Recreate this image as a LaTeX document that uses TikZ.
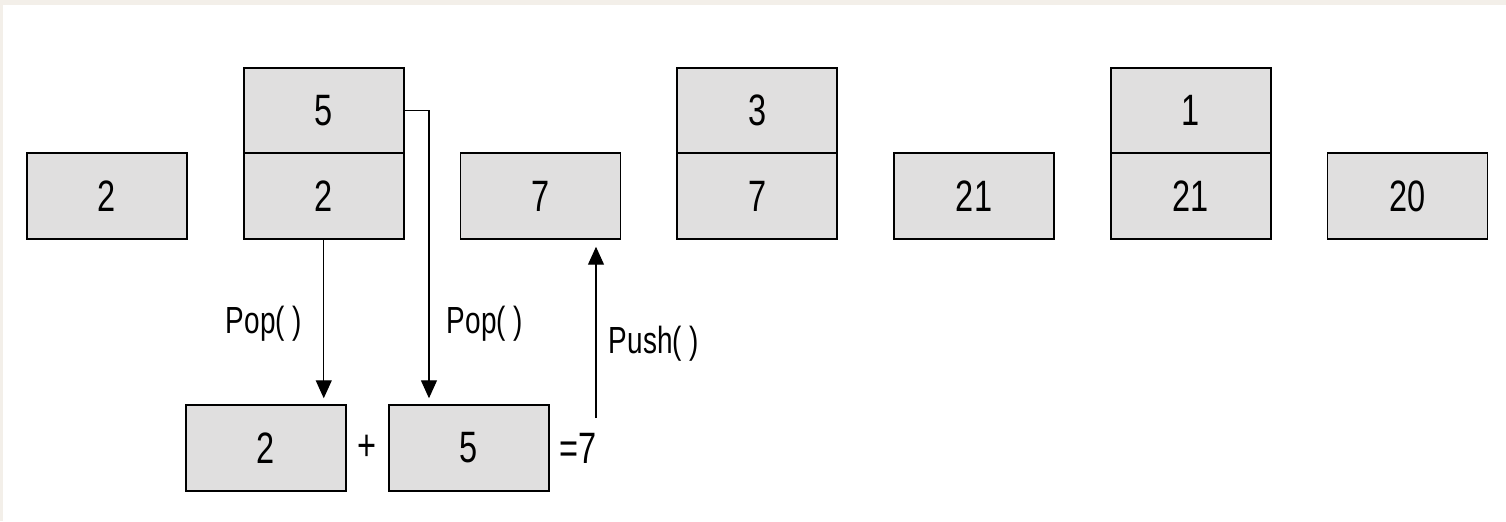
\documentclass[tikz,border=0pt]{standalone}
\usepackage{xcolor}
\usepackage{fontspec}
\setmainfont[FakeStretch=0.74]{Liberation Sans}
\usepackage{tikz}
\usetikzlibrary{positioning}
\usetikzlibrary{calc}
\usetikzlibrary{arrows.meta}

\definecolor{cellgray}{RGB}{224,223,223}
\definecolor{pagetone}{RGB}{243,239,233}

\tikzset{
  cell/.style={draw=black, fill=cellgray, line width=1pt, inner sep=0pt, outer sep=0pt,
    minimum width=3.2cm, minimum height=1.71cm, font=\fontsize{25}{25}\selectfont},
  lbl/.style={anchor=base, font=\fontsize{21.5}{21.5}\selectfont},
  sym/.style={inner sep=0pt, font=\fontsize{25}{25}\selectfont},
  arr/.style={line width=0.7pt, -{Triangle[length=0.36cm,width=0.32cm]}}
}

\begin{document}
\begin{tikzpicture}[x=0.02cm,y=-0.02cm]
 \fill [pagetone] (0,0) rectangle (1506,521);
 \fill [white] (3,5) rectangle (1506,521);

 % the stack after each step
 \node (s1) [cell] at (107,196) {2};
 \node (s2) [cell,right=1.136cm of s1] {2};
 \node (s2top) [cell,above=0cm of s2] {5};
 \node (s3) [cell,right=1.136cm of s2] {7};
 \node (s4) [cell,right=1.136cm of s3] {7};
 \node (s4top) [cell,above=0cm of s4] {3};
 \node (s5) [cell,right=1.136cm of s4] {21};
 \node (s6) [cell,right=1.136cm of s5] {21};
 \node (s6top) [cell,above=0cm of s6] {1};
 \node (s7) [cell,right=1.136cm of s6] {20};

 % the addition
 \node (opa) [cell] at (266,448) {2};
 \node (opb) [cell,right=0.86cm of opa] {5};
 \node (plus) [sym] at ($ (opa.east)!0.5!(opb.west) $) {+};
 \node (eq) [sym,right=0.2cm of opb] {=7};
 \coordinate (pushfoot) at (596,418);

 \draw [arr, shorten >=0.14cm] (s2.south) -- (s2.south |- opa.north);
 \draw [arr, shorten >=0.14cm] (s2top.east) -| ($ (opb.north west) + (40,0) $);
 \draw [arr, shorten >=0.16cm] (pushfoot) -- (pushfoot |- s3.south);

 \node (pop1) [lbl] at (264,333) {Pop( )};
 \node (pop2) [lbl] at (485,333) {Pop( )};
 \node (push) [lbl] at (654,353) {Push( )};
\end{tikzpicture}
\end{document}
